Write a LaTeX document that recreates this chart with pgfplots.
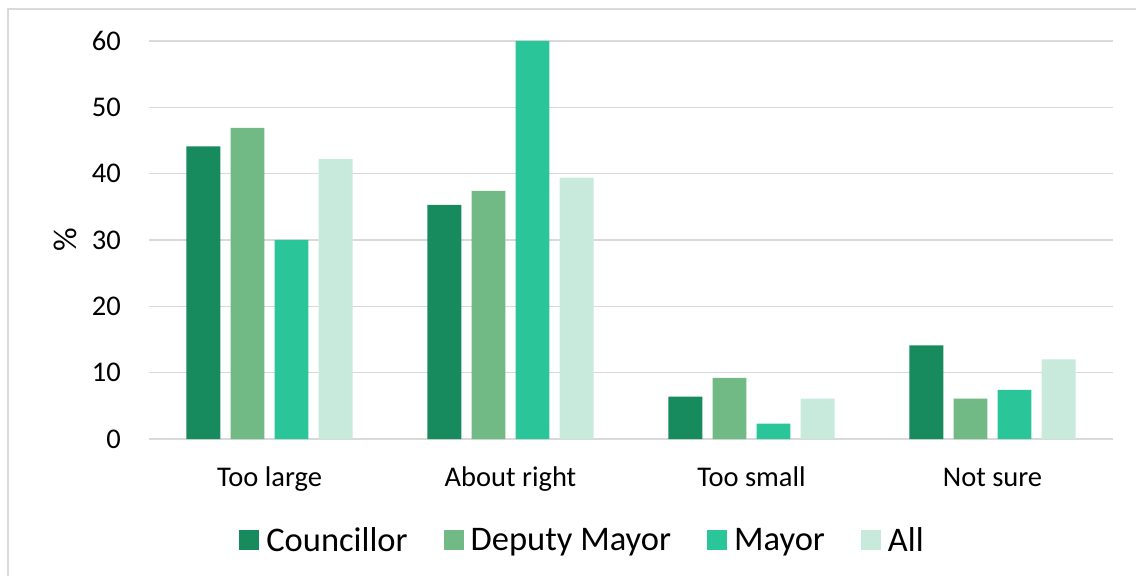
\documentclass[border=0pt]{standalone}
\usepackage{fontspec}
\setmainfont{Carlito}
\usepackage{pgfplots}
\pgfplotsset{compat=1.18}
\definecolor{cA}{HTML}{178A5E}
\definecolor{cB}{HTML}{71B985}
\definecolor{cC}{HTML}{2BC59A}
\definecolor{cD}{HTML}{C8EADC}
\definecolor{gridgray}{HTML}{D9D9D9}
\begin{document}
\begin{tikzpicture}[x=1pt,y=1pt]
\useasboundingbox (0,0) rectangle (1136,576);
\draw[gridgray, line width=2pt] (8,0) -- (8,567) -- (1136,567);
\begin{axis}[
  at={(149pt,137pt)}, anchor=south west,
  scale only axis, width=964pt, height=398pt,
  xmin=-0.5, xmax=3.5, ymin=0, ymax=60,
  ytick={0,10,...,60}, xtick={0,1,2,3},
  xticklabels={Too large,About right,Too small,Not sure},
  axis line style={draw=none}, major tick length=0pt,
  ymajorgrids, grid style={gridgray, line width=1.5pt},
  tick label style={inner sep=0pt, font=\fontsize{28.5}{34}\selectfont},
  /pgf/number format/assume math mode=true,
  yticklabel style={anchor=east, xshift=-28pt},
  xticklabel style={anchor=base, yshift=-47pt},
  ylabel={\%}, ylabel style={font=\fontsize{33}{40}\selectfont, at={(axis description cs:-0.087,0.5)}, anchor=center, rotate=0},
  legend columns=4,
  legend image code/.code={\fill[#1] (0pt,-10pt) rectangle (20pt,10pt);},
  legend style={at={(axis description cs:0.4487,-0.2538)}, anchor=center, draw=none, fill=none,
    font=\fontsize{34.5}{40}\selectfont, nodes={inner sep=0pt},
    /tikz/every odd column/.append style={column sep=7pt},
    /tikz/every even column/.append style={column sep=36pt}},
]
\addplot[ybar, fill=cA, draw=none, bar width=0.141, bar shift=-0.274] coordinates {(0,44.1) (1,35.3) (2,6.4) (3,14.1)};
\addplot[ybar, fill=cB, draw=none, bar width=0.141, bar shift=-0.0913] coordinates {(0,46.9) (1,37.4) (2,9.2) (3,6.1)};
\addplot[ybar, fill=cC, draw=none, bar width=0.141, bar shift=0.0913] coordinates {(0,30.0) (1,60.0) (2,2.3) (3,7.4)};
\addplot[ybar, fill=cD, draw=none, bar width=0.141, bar shift=0.274] coordinates {(0,42.2) (1,39.4) (2,6.1) (3,12.0)};
\legend{Councillor,Deputy Mayor,Mayor,All}
\end{axis}
\end{tikzpicture}
\end{document}
